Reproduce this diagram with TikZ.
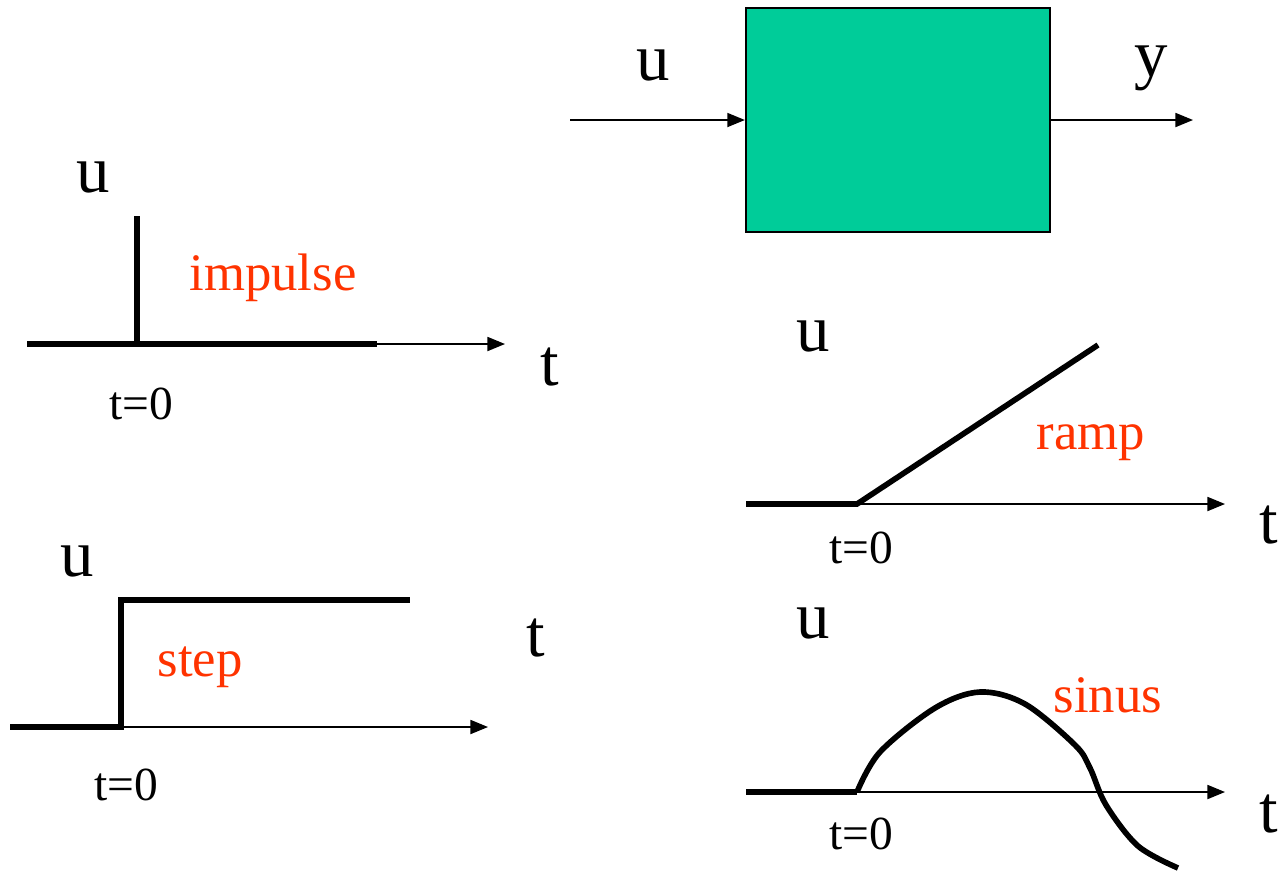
\documentclass[tikz,border=0pt]{standalone}
\usepackage{fontspec}
\setmainfont{Liberation Serif}
\usetikzlibrary{arrows.meta}
\definecolor{plantfill}{RGB}{0,204,153}
\definecolor{signalname}{RGB}{255,51,0}
\tikzset{signal/.style={-{Triangle[length=5pt,width=4pt]},line width=0.45pt},
 input/.style={line width=1.6pt},
 varname/.style={font=\fontsize{19}{22}\selectfont,inner sep=0pt},
 kind/.style={font=\fontsize{15}{18}\selectfont,text=signalname,inner sep=0pt},
 origin/.style={font=\fontsize{13.5}{16}\selectfont,inner sep=0pt}}

\begin{document}
\begin{tikzpicture}[x=0.01cm,y=-0.01cm]
\useasboundingbox (0,0) rectangle (1282,872);
% system block
\node[draw,fill=plantfill,line width=0.6pt,minimum width=3.04cm,minimum height=2.24cm,inner sep=0pt] (sys) at (898,120) {};
\coordinate (sysin) at (570,120);
\coordinate (sysout) at (1193,120);
\draw[signal] (sysin) -- (sys);
\draw[signal] (sys) -- (sysout);
\node[varname] (uin) at (653,65) {u};
\node[varname] (yout) at (1151,68) {y};
% impulse
\coordinate (imp0) at (137,344);
\coordinate (impend) at (377,344);
\draw[input] (27,344) -- (impend);
\draw[input] (imp0) -- ++(0,-128);
\draw[signal] (impend) -- (505,344);
\node[varname] (impu) at (93,177) {u};
\node[varname] (impt) at (550,367) {t};
\node[kind] (impname) at (273,278) {impulse};
\node[origin] (impzero) at (141,404) {t=0};
% ramp
\coordinate (ramp0) at (857,504);
\draw[input] (746,504) -- (ramp0) -- (1098,345);
\draw[signal] (ramp0) -- (1225,504);
\node[varname] (rampu) at (813,336) {u};
\node[varname] (rampt) at (1269,525) {t};
\node[kind] (rampname) at (1091,443) {ramp};
\node[origin] (rampzero) at (861,548) {t=0};
% step
\coordinate (step0) at (121,727);
\draw[input] (10,727) -- (step0) -- (121,600) -- (410,600);
\draw[signal] (step0) -- (488,727);
\node[varname] (stepu) at (77,561) {u};
\node[varname] (stept) at (536,638) {t};
\node[kind] (stepname) at (200,667) {step};
\node[origin] (stepzero) at (126,785) {t=0};
% sinus
\coordinate (sin0) at (857,792);
\draw[input] (746,792) -- (sin0);
\draw[input] plot[smooth,tension=0.55] coordinates {(sin0) (880,752) (935,708) (980,692) (1025,704) (1075,745) (1090,768) (1106,805) (1138,846) (1178,868)};
\draw[signal] (sin0) -- (1225,792);
\node[varname] (sinu) at (813,623) {u};
\node[varname] (sint) at (1269,814) {t};
\node[kind] (sinname) at (1108,695) {sinus};
\node[origin] (sinzero) at (861,834) {t=0};
\end{tikzpicture}
\end{document}
